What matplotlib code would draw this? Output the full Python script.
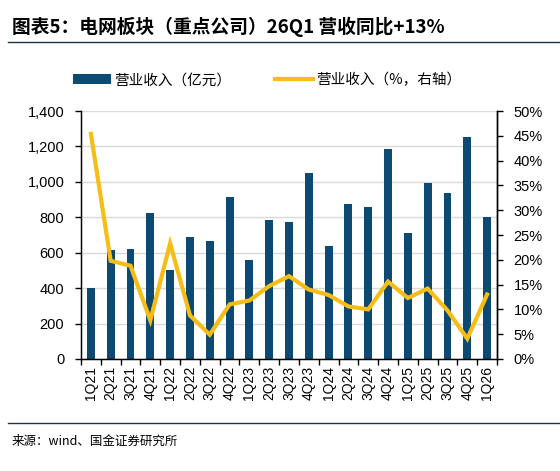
import matplotlib
matplotlib.use("Agg")
import matplotlib.pyplot as plt
from matplotlib.patches import Patch
from matplotlib.lines import Line2D
from matplotlib.ticker import FuncFormatter, MultipleLocator, FixedLocator

plt.rcParams['font.family'] = ['Liberation Sans', 'Noto Sans CJK SC', 'DejaVu Sans']

quarters = ["1Q21", "2Q21", "3Q21", "4Q21", "1Q22", "2Q22", "3Q22", "4Q22",
            "1Q23", "2Q23", "3Q23", "4Q23", "1Q24", "2Q24", "3Q24", "4Q24",
            "1Q25", "2Q25", "3Q25", "4Q25", "1Q26"]
revenue = [400, 617, 620, 825, 505, 687, 664, 913,
           560, 787, 776, 1049, 636, 876, 860, 1185,
           709, 996, 938, 1251, 802]
yoy = [45.4, 19.8, 18.8, 7.8, 23.3, 8.8, 4.9, 11.0,
       11.8, 14.7, 16.7, 14.0, 12.9, 10.6, 10.0, 15.6,
       12.3, 14.2, 9.8, 4.1, 13.0]

bar_color = "#0D4A73"
line_color = "#F6BD16"

fig = plt.figure(figsize=(5.6, 4.71), dpi=100)
ax = fig.add_axes([0.1446, 0.2378, 0.8875 - 0.1446, 0.7643 - 0.2378])
x = list(range(len(quarters)))
ax.bar(x, revenue, width=0.4, color=bar_color, zorder=2)
ax.set_xlim(-0.5, len(quarters) - 0.5)
ax.set_ylim(0, 1400)
ax.yaxis.set_major_locator(MultipleLocator(200))
ax.yaxis.set_major_formatter(FuncFormatter(lambda v, p: f"{int(v):,}"))
ax.grid(axis='y', color='#d9d9d9', linewidth=1, zorder=0)
ax.set_axisbelow(True)
ax.set_xticks(x)
ax.set_xticklabels(quarters, rotation=90, fontsize=10)
ax.tick_params(axis='x', length=0, pad=5)
ax.xaxis.set_minor_locator(FixedLocator([i - 0.5 for i in range(len(quarters) + 1)]))
ax.tick_params(axis='x', which='minor', length=4, direction='out', width=1)
ax.tick_params(axis='y', labelsize=10.5, length=4, direction='out', width=1, pad=8)
for s in ['top']:
    ax.spines[s].set_visible(False)
for s in ['left', 'bottom', 'right']:
    ax.spines[s].set_linewidth(1)
    ax.spines[s].set_color('black')

ax2 = ax.twinx()
ax2.plot(x, yoy, color=line_color, linewidth=3, zorder=3, solid_joinstyle='miter')
ax2.set_ylim(0, 50)
ax2.yaxis.set_major_locator(MultipleLocator(5))
ax2.yaxis.set_major_formatter(FuncFormatter(lambda v, p: f"{int(round(v))}%"))
ax2.tick_params(axis='y', labelsize=10.5, length=4, direction='out', width=1, pad=8)
ax2.spines['top'].set_visible(False)
ax2.spines['right'].set_linewidth(1)

handles = [Patch(facecolor=bar_color, edgecolor='none'),
           Line2D([0], [0], color=line_color, linewidth=3)]
labels = ["营业收入（亿元）", "营业收入（%，右轴）"]
fig.legend(handles, labels, loc='center', bbox_to_anchor=(0.477, 0.830), ncol=2,
           frameon=False, prop={'family': ['Noto Sans CJK SC', 'DejaVu Sans'], 'size': 10.5},
           handlelength=2.6, handleheight=0.7, columnspacing=3.0, handletextpad=0.2)

fig.text(0.021, 0.943, "图表5：电网板块（重点公司）26Q1 营收同比+13%", fontsize=13.5,
         fontweight='bold', family=['Noto Sans CJK SC', 'DejaVu Sans'], va='center', ha='left')
fig.add_artist(Line2D([0.014, 1.0], [0.911, 0.911], color='#1f3345', linewidth=1))
fig.add_artist(Line2D([0.014, 1.0], [0.102, 0.102], color='#1f3345', linewidth=1))
fig.text(0.021, 0.064, "来源：wind、国金证券研究所", fontsize=9,
         family=['Noto Sans CJK SC', 'DejaVu Sans'], va='center', ha='left')

fig.savefig("out.png", dpi=100)
